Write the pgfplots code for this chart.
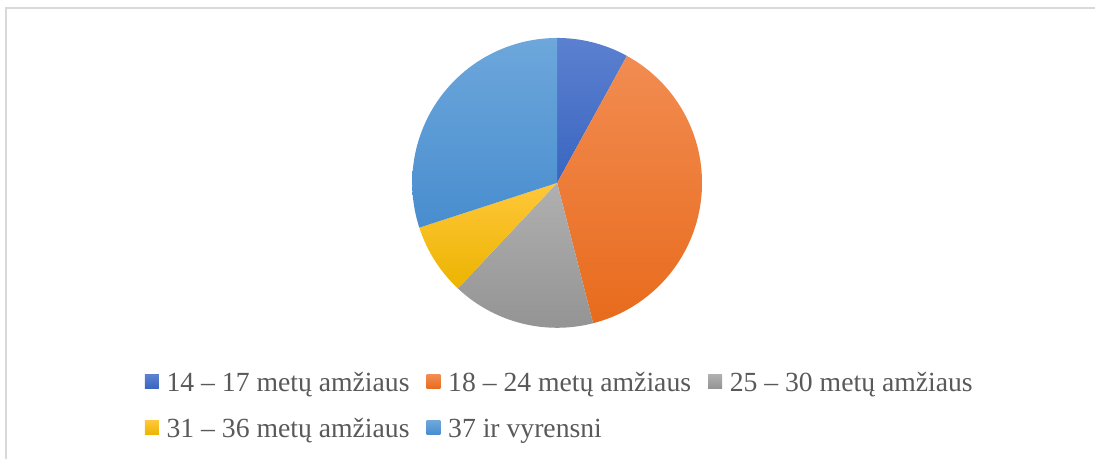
\documentclass[border=0pt]{standalone}
\usepackage{fontspec}
\setmainfont{Liberation Serif}
\usepackage{pgfplots}
\pgfplotsset{compat=1.18}

\definecolor{cAt}{HTML}{5B80D0}\definecolor{cAb}{HTML}{3A66C0}
\definecolor{cBt}{HTML}{F28C52}\definecolor{cBb}{HTML}{E86B1C}
\definecolor{cCt}{HTML}{B0B0B0}\definecolor{cCb}{HTML}{949494}
\definecolor{cDt}{HTML}{FFC73A}\definecolor{cDb}{HTML}{ECB400}
\definecolor{cEt}{HTML}{6DA7DB}\definecolor{cEb}{HTML}{488DCF}
\definecolor{frame}{HTML}{D9D9D9}
\definecolor{txt}{HTML}{595959}

% centre and radius of the pie, in px of the 1096x459 picture
\def\cx{557.5}\def\cy{276}\def\rr{145}

% one slice: value (percent), top colour, bottom colour, legend text
\newcommand\slice[4]{%
  \pgfmathsetmacro\aEnd{\aStart-#1*3.6}%
  \edef\temp{\noexpand\addplot[draw=none,top color=#2,bottom color=#3,
    domain=\aEnd:\aStart,samples=90,variable=\noexpand\t]
    ({\cx+\rr*cos(\noexpand\t)},{\cy+\rr*sin(\noexpand\t)})
    -- (axis cs:\cx,\cy) -- cycle;}\temp
  \addlegendentry{#4}%
  \global\let\aStart\aEnd}

\begin{document}
\begin{tikzpicture}
\begin{axis}[
  at={(0,0)},anchor=south west,
  width=1096bp,height=459bp,scale only axis,
  xmin=0,xmax=1096,ymin=0,ymax=459,
  hide axis,clip=false,
  legend columns=3,
  legend image code/.code={\fill[#1] (0bp,-3.5bp) rectangle (14bp,10.5bp);},
  legend style={at={(axis cs:145,86)},anchor=north west,draw=none,fill=none,
    inner sep=0pt,outer sep=0pt,
    font=\fontsize{27.7bp}{33bp}\selectfont,text=txt,
    nodes={inner sep=0pt,text height=19bp,text depth=6bp},
    row sep=21bp,
    /tikz/every odd column/.append style={column sep=7.7bp},
    /tikz/every even column/.append style={column sep=17bp}},
  legend cell align=left,
]
\draw[frame,line width=1.5bp] (axis cs:6,0) -- (axis cs:6,451) -- (axis cs:1096,451);
\path (axis cs:0,0) rectangle (axis cs:1096,459);
\gdef\aStart{90}
\slice{8}{cAt}{cAb}{14 – 17 metų amžiaus}
\slice{38}{cBt}{cBb}{18 – 24 metų amžiaus}
\slice{16}{cCt}{cCb}{25 – 30 metų amžiaus}
\slice{8}{cDt}{cDb}{31 – 36 metų amžiaus}
\slice{30}{cEt}{cEb}{37 ir vyrensni}
\end{axis}
\end{tikzpicture}
\end{document}
